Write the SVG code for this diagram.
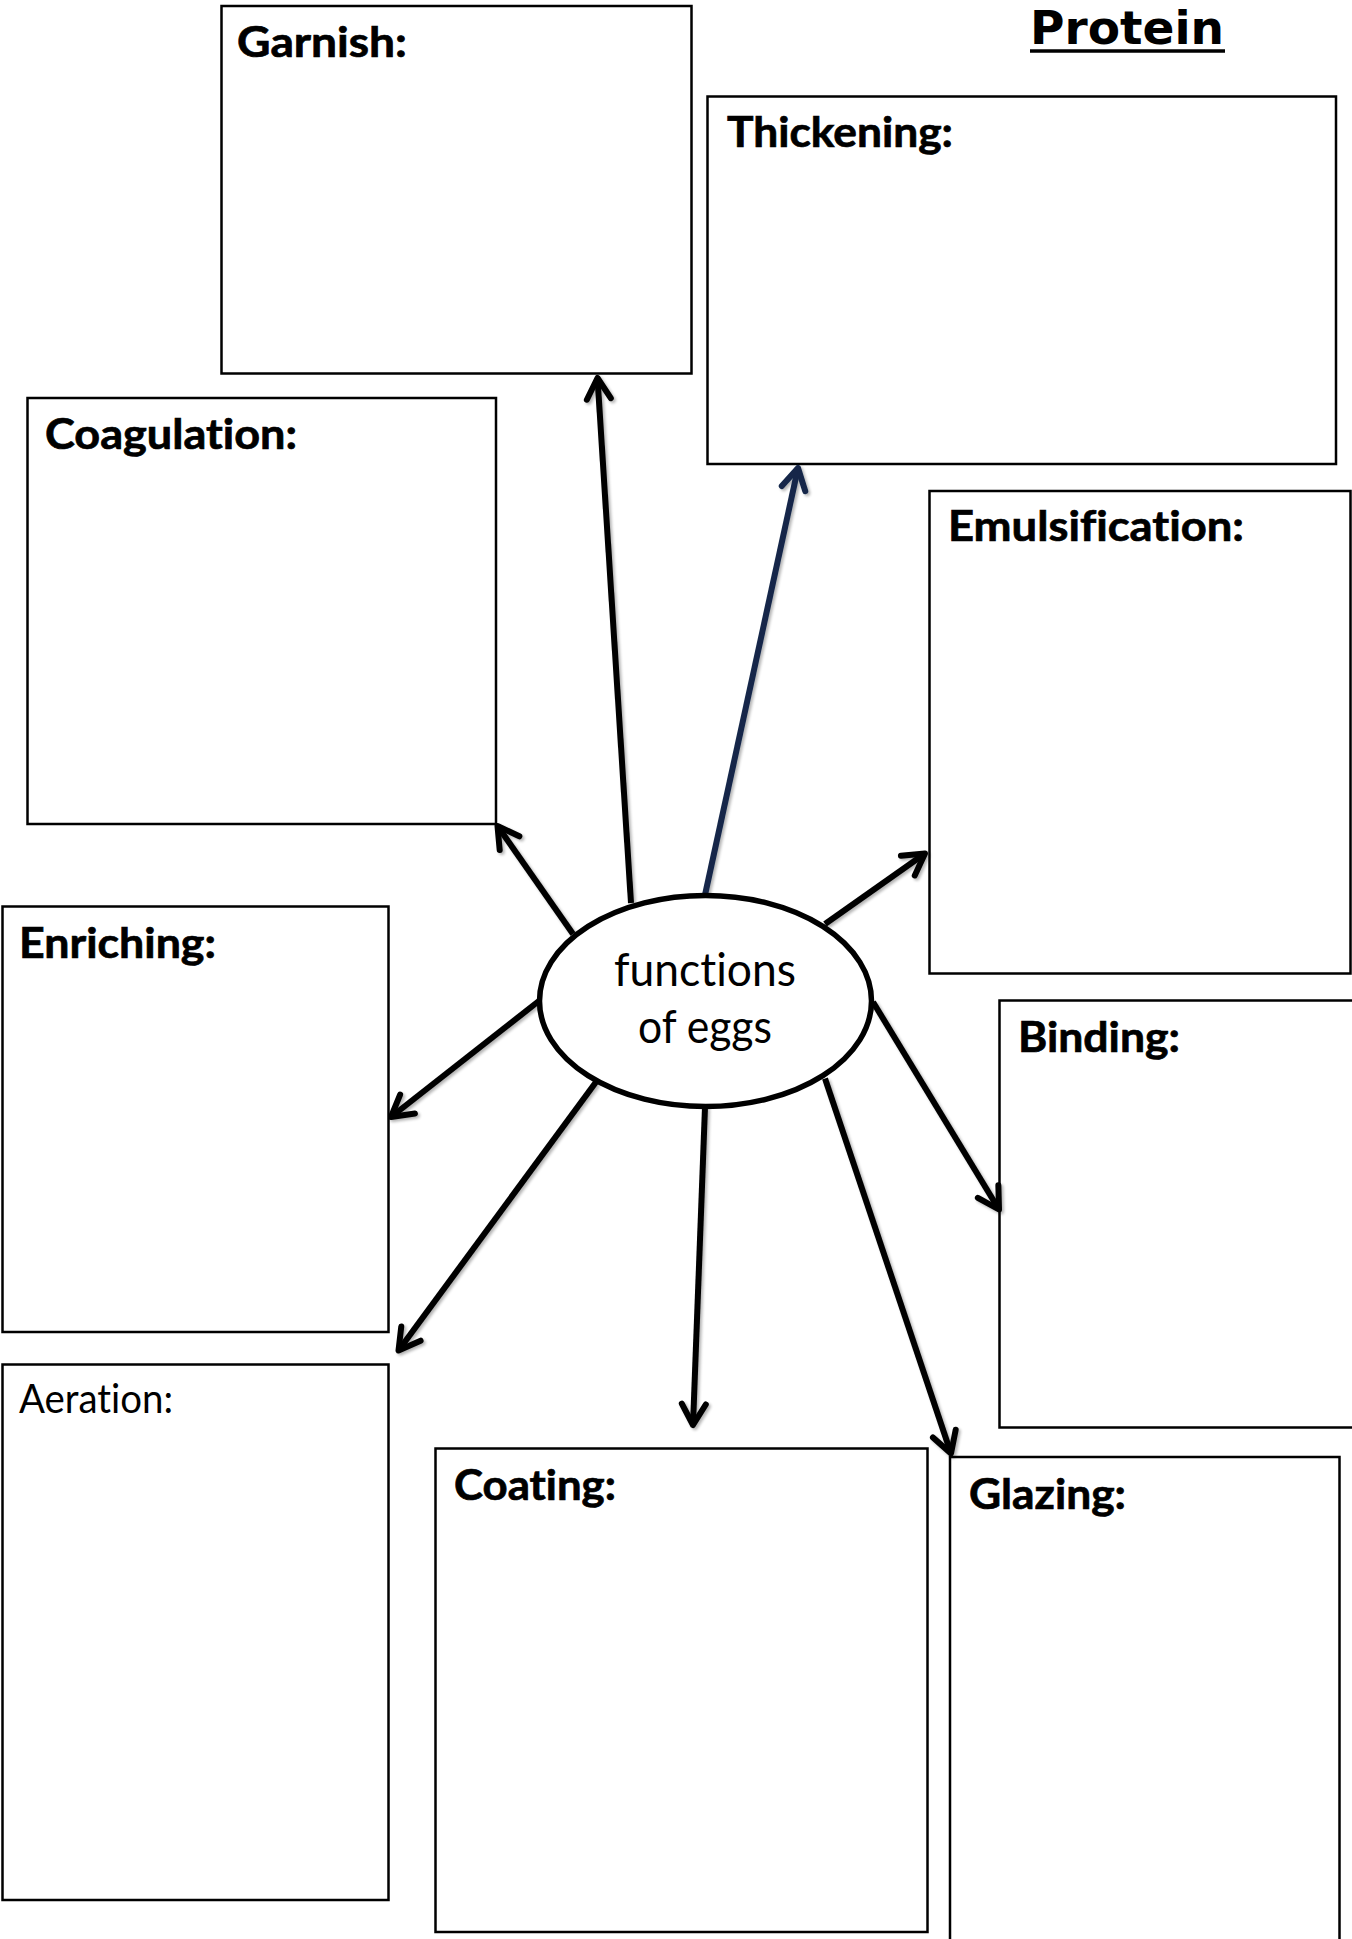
<svg xmlns="http://www.w3.org/2000/svg" width="1352" height="1939" viewBox="0 0 1352 1939">
<style>
text{font-variant-ligatures:none;font-feature-settings:"liga" 0,"clig" 0}
.box{fill:#fff;stroke:#000;stroke-width:2.5}
.lbl{font-family:Lato,"Open Sans","Liberation Sans",sans-serif;font-weight:bold;font-size:42px;fill:#000;stroke:#000;stroke-width:0.7}
.lblr{font-family:Lato,"Open Sans","Liberation Sans",sans-serif;font-weight:normal;font-size:40px;fill:#000}
.ctr{font-family:Lato,"Open Sans","Liberation Sans",sans-serif;font-size:46px;fill:#000;text-anchor:middle}
.ttl{font-family:"DejaVu Sans","Liberation Sans",sans-serif;font-weight:bold;font-size:46px;fill:#000}
.con{fill:none;stroke:#000;stroke-width:6}
.navy{stroke:#14284a}
</style>
<defs>
<filter id="sh" x="-20%" y="-20%" width="140%" height="140%">
<feGaussianBlur in="SourceAlpha" stdDeviation="1.5"/>
<feOffset dx="1.5" dy="2" result="b"/>
<feComponentTransfer><feFuncA type="linear" slope="0.3"/></feComponentTransfer>
<feMerge><feMergeNode/><feMergeNode in="SourceGraphic"/></feMerge>
</filter>
<marker id="ah" viewBox="-26 -16 30 32" markerWidth="30" markerHeight="32" refX="0" refY="0" orient="auto" markerUnits="userSpaceOnUse">
<path d="M-21,-12 L0,0 L-21,12" fill="none" stroke="#000" stroke-width="6" stroke-linecap="round" stroke-linejoin="round"/>
</marker>
<marker id="ahn" viewBox="-26 -16 30 32" markerWidth="30" markerHeight="32" refX="0" refY="0" orient="auto" markerUnits="userSpaceOnUse">
<path d="M-21,-12 L0,0 L-21,12" fill="none" stroke="#14284a" stroke-width="6" stroke-linecap="round" stroke-linejoin="round"/>
</marker>
</defs>
<rect width="1352" height="1939" fill="#fff"/>

<g id="title">
<text class="ttl" x="1030" y="44" textLength="194" lengthAdjust="spacingAndGlyphs">Protein</text>
<line x1="1030" y1="51" x2="1225" y2="51" stroke="#000" stroke-width="3.5"/>
</g>

<g id="garnish"><rect class="box" x="221.5" y="6" width="470" height="367.5"/><text class="lbl" x="237" y="57" textLength="170" lengthAdjust="spacingAndGlyphs">Garnish:</text></g>
<g id="thickening"><rect class="box" x="707.5" y="96.5" width="628.5" height="367.5"/><text class="lbl" x="727" y="147" textLength="226" lengthAdjust="spacingAndGlyphs">Thickening:</text></g>
<g id="coagulation"><rect class="box" x="27.5" y="398" width="468.5" height="426"/><text class="lbl" x="45" y="449" textLength="252" lengthAdjust="spacingAndGlyphs">Coagulation:</text></g>
<g id="emulsification"><rect class="box" x="929.5" y="491" width="421" height="482.5"/><text class="lbl" x="948" y="541" textLength="296" lengthAdjust="spacingAndGlyphs">Emulsification:</text></g>
<g id="enriching"><rect class="box" x="2.5" y="906.5" width="386" height="425.5"/><text class="lbl" x="19" y="958" textLength="197" lengthAdjust="spacingAndGlyphs">Enriching:</text></g>
<g id="binding"><rect class="box" x="999.5" y="1000.5" width="360" height="427"/><text class="lbl" x="1018" y="1052" textLength="162" lengthAdjust="spacingAndGlyphs">Binding:</text></g>
<g id="aeration"><rect class="box" x="2.5" y="1364.5" width="386" height="535.5"/><text class="lblr" x="19" y="1413" textLength="154" lengthAdjust="spacingAndGlyphs">Aeration:</text></g>
<g id="coating"><rect class="box" x="435.5" y="1448.5" width="492" height="483.5"/><text class="lbl" x="454" y="1500" textLength="162" lengthAdjust="spacingAndGlyphs">Coating:</text></g>
<g id="glazing"><rect class="box" x="950" y="1457" width="389.5" height="500"/><text class="lbl" x="969" y="1509" textLength="157" lengthAdjust="spacingAndGlyphs">Glazing:</text></g>

<g id="connectors" filter="url(#sh)">
<line class="con" x1="631" y1="903" x2="597.5" y2="378" marker-end="url(#ah)"/>
<line class="con navy" x1="705" y1="895" x2="798" y2="468" marker-end="url(#ahn)"/>
<line class="con" x1="573" y1="934" x2="497.5" y2="826" marker-end="url(#ah)"/>
<line class="con" x1="825" y1="924" x2="925" y2="853.5" marker-end="url(#ah)"/>
<line class="con" x1="539.5" y1="1000.5" x2="391" y2="1117" marker-end="url(#ah)"/>
<line class="con" x1="873" y1="1002" x2="999" y2="1209.5" marker-end="url(#ah)"/>
<line class="con" x1="596" y1="1082" x2="398.5" y2="1350.5" marker-end="url(#ah)"/>
<line class="con" x1="705" y1="1107" x2="693" y2="1425" marker-end="url(#ah)"/>
<line class="con" x1="825" y1="1078.5" x2="951" y2="1453.5" marker-end="url(#ah)"/>
</g>

<g id="center">
<ellipse cx="705.5" cy="1001" rx="166" ry="105.5" fill="#fff" stroke="#000" stroke-width="5.5"/>
<text class="ctr" x="705" y="986" textLength="182" lengthAdjust="spacingAndGlyphs">functions</text>
<text class="ctr" x="705" y="1043" textLength="134" lengthAdjust="spacingAndGlyphs">of eggs</text>
</g>
</svg>
